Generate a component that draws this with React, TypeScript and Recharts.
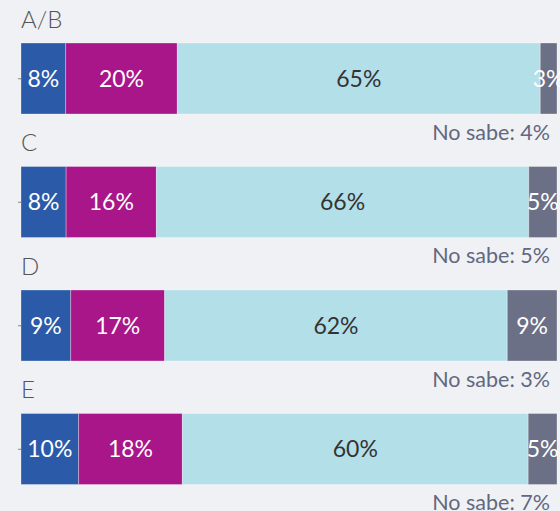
import { BarChart, Bar, XAxis, YAxis, LabelList } from 'recharts';

const categories = ['A/B', 'C', 'D', 'E'];
const seriesBlue = [8, 8, 9, 10];
const seriesMagenta = [20, 16, 17, 18];
const seriesLight = [65, 66, 62, 60];
const seriesGrey = [3, 5, 9, 5];
const noSabe = [4, 5, 3, 7];

const data = categories.map((name, i) => ({
  name,
  blue: seriesBlue[i],
  magenta: seriesMagenta[i],
  light: seriesLight[i],
  grey: seriesGrey[i],
  noSabe: noSabe[i],
}));

const FONT = 'Lato, "Open Sans", sans-serif';

function CategoryTick({ x, y, payload }: any) {
  const i = payload.index;
  return (
    <g>
      <text x={21} y={y - 51} fill="#555" fontSize={24} fontFamily={FONT} fontWeight={300}>
        {categories[i]}
      </text>
      <text x={550} y={y + 61} fill="#62687f" fontSize={21.5} fontFamily={FONT} textAnchor="end">
        {`No sabe: ${noSabe[i]}%`}
      </text>
    </g>
  );
}

const pct = (v: any) => `${v}%`;

export default function App() {
  return (
    <div style={{ position: 'fixed', left: 0, top: 0, width: 560, height: 511, background: '#f0f1f5' }}>
      <BarChart
        width={560}
        height={511}
        data={data}
        layout="vertical"
        stackOffset="expand"
        barSize={71}
        margin={{ top: 17, right: 3, bottom: 0, left: 0 }}
      >
        <XAxis type="number" hide domain={[0, 1]} />
        <YAxis
          type="category"
          dataKey="name"
          width={21}
          axisLine={false}
          tickSize={3}
          tickLine={{ stroke: '#888' }}
          tick={<CategoryTick />}
        />
        <Bar dataKey="blue" stackId="a" fill="#2a5aa8" stroke="rgba(255,255,255,0.3)" isAnimationActive={false}>
          <LabelList dataKey="blue" position="center" fill="#fff" fontSize={23} fontFamily={FONT} formatter={pct} />
        </Bar>
        <Bar dataKey="magenta" stackId="a" fill="#a8168a" stroke="rgba(255,255,255,0.3)" isAnimationActive={false}>
          <LabelList dataKey="magenta" position="center" fill="#fff" fontSize={23} fontFamily={FONT} formatter={pct} />
        </Bar>
        <Bar dataKey="light" stackId="a" fill="#b3dfe9" stroke="rgba(255,255,255,0.3)" isAnimationActive={false}>
          <LabelList dataKey="light" position="center" fill="#333" fontSize={23} fontFamily={FONT} formatter={pct} />
        </Bar>
        <Bar dataKey="grey" stackId="a" fill="#6b7086" stroke="rgba(255,255,255,0.3)" isAnimationActive={false}>
          <LabelList dataKey="grey" position="center" fill="#fff" fontSize={23} fontFamily={FONT} formatter={pct} />
        </Bar>
      </BarChart>
    </div>
  );
}
